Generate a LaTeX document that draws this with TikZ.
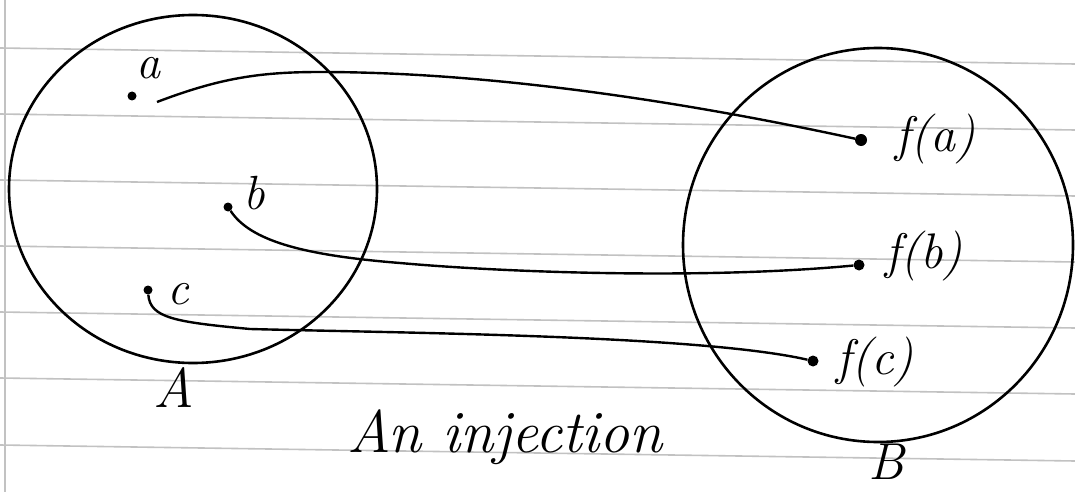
\documentclass[tikz,border=0pt]{standalone}
\usepackage{fontspec}
\usetikzlibrary{shapes.geometric}
\tikzset{
  rule/.style={black!24, line width=1.6pt},
  setshape/.style={ellipse, draw, line width=2.6pt, inner sep=0pt},
  elemdot/.style={circle, fill, inner sep=0pt, minimum size=9pt},
  elem/.style={font=\fontsize{48}{48}\selectfont\itshape, inner sep=0pt},
  imglbl/.style={font=\fontsize{50}{50}\selectfont\itshape, inner sep=0pt},
  setname/.style={font=\fontsize{56}{56}\selectfont\itshape, inner sep=0pt},
  line/.style={line width=2.4pt}
}

\begin{document}
\begin{tikzpicture}[x=1pt, y=-1pt]
    \fill[white] (0,0) rectangle (1075,492);
    \useasboundingbox (0,0) rectangle (1075,492);
    % ruled paper
    \foreach \y in {48,114,180,246,312,378,445}
      \draw[rule] (0,\y) -- (1075,\y+16);
    \draw[rule] (5,0) -- (5,492);
    % the two sets
    \node[setshape, minimum width=368pt, minimum height=348pt] (sa) at (193,189) {};
    \node[setshape, minimum width=390pt, minimum height=394pt] (sb) at (878,245) {};
    \node[setname] (na) at (174,388) {A};
    \node[setname, font=\fontsize{52}{52}\selectfont\itshape] (nb) at (886,462) {B};
    % elements of A
    \node[elemdot] (a) at (132,96) {};
    \node[elemdot] (b) at (228,207) {};
    \node[elemdot] (c) at (148,290) {};
    \node[elem] (la) at (148,68) {a};
    \node[elem] (lb) at (254,193) {b};
    \node[elem] (lc) at (178,294) {c};
    % images in B
    \node[elemdot, minimum size=12pt] (fa) at (861,140) {};
    \node[elemdot, minimum size=11pt] (fb) at (859,265) {};
    \node[elemdot, minimum size=11pt] (fc) at (813,361) {};
    \node[imglbl] (lfa) at (935,139) {f(a)};
    \node[imglbl] (lfb) at (924,256) {f(b)};
    \node[imglbl] (lfc) at (875,362) {f(c)};
    % the map
    \draw[line] ([shift={(25,6)}]a.center) .. controls (220,78) and (260,72) .. (320,72)
      .. controls (500,72) and (700,105) .. (fa);
    \draw[line] (b) .. controls (250,240) and (300,255) .. (400,263)
      .. controls (500,272) and (700,280) .. (fb);
    \draw[line] (c) .. controls (150,318) and (175,322) .. (250,329)
      .. controls (400,333) and (700,335) .. (fc);
    \node[setname, font=\fontsize{60}{60}\selectfont\itshape] (title) at (505,437) {An injection};
\end{tikzpicture}
\end{document}
